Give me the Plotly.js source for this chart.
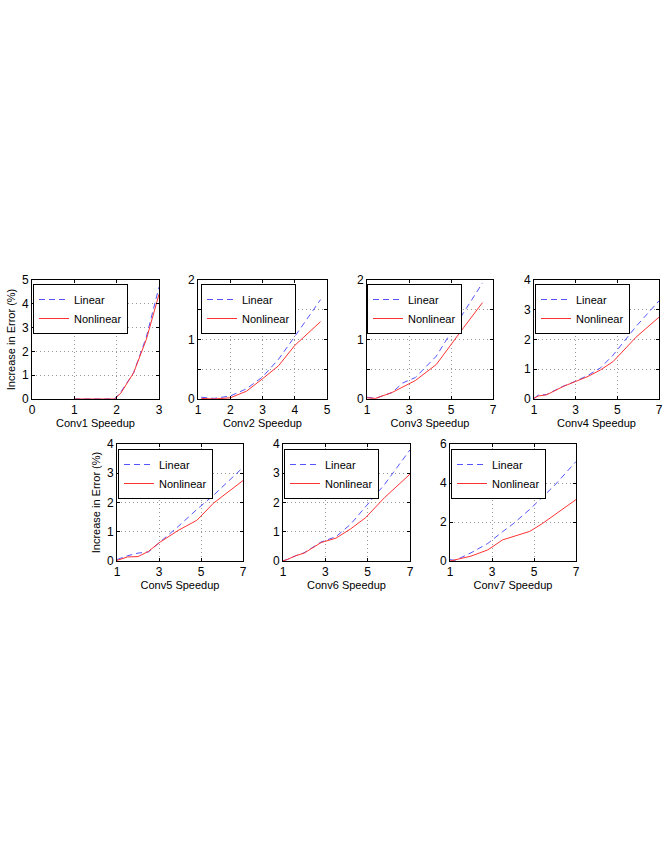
<!DOCTYPE html>
<html>
<head>
<meta charset="utf-8">
<script src="https://cdn.plot.ly/plotly-3.0.1.min.js"></script>
<style>
  html, body { margin: 0; padding: 0; background: #fff; }
  #chart { width: 663px; height: 855px; }
</style>
</head>
<body>
<div id="chart"></div>
<script>
// speedup values and error increases
const conv1X = [1, 1.5, 1.95, 2.1, 2.4, 2.7, 3];
const conv1Linear = [0, 0, 0, 0.3, 1.1, 2.6, 4.7];
const conv1Nonlinear = [0, 0, 0, 0.25, 1.1, 2.5, 4.4];

const conv2X = [1.1, 1.5, 2, 2.5, 3, 3.5, 4, 4.5, 4.8];
const conv2Linear = [0.03, 0.01, 0.05, 0.17, 0.37, 0.67, 1.05, 1.44, 1.67];
const conv2Nonlinear = [0.01, 0, 0.02, 0.13, 0.34, 0.56, 0.9, 1.15, 1.3];

const conv3X = [1, 1.4, 2.2, 2.7, 3.3, 4.3, 5, 5.6, 6.5];
const conv3Linear = [0.03, 0.01, 0.11, 0.27, 0.36, 0.72, 1.12, 1.46, 1.95];
const conv3Nonlinear = [0.02, 0.01, 0.11, 0.2, 0.31, 0.58, 0.92, 1.2, 1.62];

const conv4X = [1, 1.2, 1.6, 2.4, 3, 3.6, 4.2, 4.8, 5.9, 7];
const conv4Linear = [0.02, 0.13, 0.15, 0.43, 0.6, 0.8, 1.05, 1.48, 2.44, 3.3];
const conv4Nonlinear = [0.02, 0.1, 0.14, 0.42, 0.59, 0.76, 0.98, 1.26, 2.08, 2.75];

const conv5X = [1, 1.5, 2, 2.5, 3, 3.9, 4.8, 5.6, 7];
const conv5Linear = [0.05, 0.18, 0.27, 0.31, 0.62, 1.17, 1.76, 2.25, 3.2];
const conv5Nonlinear = [0.02, 0.14, 0.15, 0.33, 0.62, 1.04, 1.39, 1.98, 2.75];

const conv6X = [1, 1.2, 1.6, 2, 2.8, 3.5, 4.2, 4.9, 5.8, 7];
const conv6Linear = [0.01, 0.05, 0.18, 0.28, 0.65, 0.83, 1.26, 1.87, 2.62, 3.8];
const conv6Nonlinear = [0, 0.05, 0.18, 0.27, 0.63, 0.78, 1.1, 1.48, 2.17, 2.97];

const conv7X = [1, 1.25, 2, 2.8, 3.5, 4, 4.8, 5.4, 6, 7];
const conv7Linear = [0.07, 0.03, 0.42, 0.9, 1.5, 1.9, 2.65, 3.25, 3.9, 5.1];
const conv7Nonlinear = [0, 0.07, 0.25, 0.57, 1.08, 1.25, 1.52, 1.92, 2.38, 3.15];

const panelTitles = ['Conv1 Speedup', 'Conv2 Speedup', 'Conv3 Speedup', 'Conv4 Speedup',
                     'Conv5 Speedup', 'Conv6 Speedup', 'Conv7 Speedup'];

const W = 663, H = 855;
const px = v => v / W;
const py = v => 1 - v / H;

const panels = [
  { x: conv1X, lin: conv1Linear, non: conv1Nonlinear, box: [32, 159, 280, 399], xr: [0, 3], xt: [0, 1, 2, 3], xl: ['0', '1', '2', '3'], yr: [0, 5], yt: [0, 1, 2, 3, 4, 5], yl: ['0', '1', '2', '3', '4', '5'], leg: [33, 284], ytitle: true },
  { x: conv2X, lin: conv2Linear, non: conv2Nonlinear, box: [198, 327, 280, 399], xr: [1, 5], xt: [1, 2, 3, 4, 5], xl: ['1', '2', '3', '4', '5'], yr: [0, 2], yt: [0, 0.5, 1, 1.5, 2], yl: ['0', '', '1', '', '2'], leg: [201, 284] },
  { x: conv3X, lin: conv3Linear, non: conv3Nonlinear, box: [367, 493, 280, 399], xr: [1, 7], xt: [1, 3, 5, 7], xl: ['1', '3', '5', '7'], yr: [0, 2], yt: [0, 0.5, 1, 1.5, 2], yl: ['0', '', '1', '', '2'], leg: [367, 284] },
  { x: conv4X, lin: conv4Linear, non: conv4Nonlinear, box: [534, 659, 280, 399], xr: [1, 7], xt: [1, 3, 5, 7], xl: ['1', '3', '5', '7'], yr: [0, 4], yt: [0, 1, 2, 3, 4], yl: ['0', '1', '2', '3', '4'], leg: [535, 284] },
  { x: conv5X, lin: conv5Linear, non: conv5Nonlinear, box: [117, 243, 444, 561], xr: [1, 7], xt: [1, 3, 5, 7], xl: ['1', '3', '5', '7'], yr: [0, 4], yt: [0, 1, 2, 3, 4], yl: ['0', '1', '2', '3', '4'], leg: [118, 449], ytitle: true },
  { x: conv6X, lin: conv6Linear, non: conv6Nonlinear, box: [283, 410, 444, 561], xr: [1, 7], xt: [1, 3, 5, 7], xl: ['1', '3', '5', '7'], yr: [0, 4], yt: [0, 1, 2, 3, 4], yl: ['0', '1', '2', '3', '4'], leg: [284, 449] },
  { x: conv7X, lin: conv7Linear, non: conv7Nonlinear, box: [450, 576, 444, 561], xr: [1, 7], xt: [1, 3, 5, 7], xl: ['1', '3', '5', '7'], yr: [0, 6], yt: [0, 2, 4, 6], yl: ['0', '2', '4', '6'], leg: [451, 449] }
];

const font = { family: 'Liberation Sans, Arial, sans-serif', size: 11, color: '#000' };
const traces = [];
const layout = {
  width: W, height: H,
  margin: { l: 0, r: 0, t: 0, b: 0 },
  paper_bgcolor: '#fff', plot_bgcolor: '#fff',
  font: font,
  showlegend: true
};

panels.forEach((p, i) => {
  const n = i + 1;
  const sfx = n === 1 ? '' : String(n);
  const legName = 'legend' + sfx;
  traces.push({
    x: p.x, y: p.lin, type: 'scatter', mode: 'lines', name: 'Linear',
    xaxis: 'x' + sfx, yaxis: 'y' + sfx, legend: legName,
    line: { color: '#5555ff', width: 1, dash: '6px,4px' }
  });
  traces.push({
    x: p.x, y: p.non, type: 'scatter', mode: 'lines', name: 'Nonlinear',
    xaxis: 'x' + sfx, yaxis: 'y' + sfx, legend: legName,
    line: { color: '#ff3333', width: 1 }
  });
  const common = {
    showline: true, linecolor: '#000', linewidth: 1, mirror: 'ticks',
    ticks: 'inside', ticklen: 3, tickcolor: '#000',
    showgrid: true, gridcolor: '#999', griddash: '1px,3px', gridwidth: 1,
    zeroline: false, automargin: false, fixedrange: true,
    tickfont: { family: font.family, size: 12, color: '#000' }
  };
  layout['xaxis' + sfx] = Object.assign({}, common, {
    domain: [px(p.box[0]), px(p.box[1])], anchor: 'y' + sfx,
    range: p.xr, tickmode: 'array', tickvals: p.xt, ticktext: p.xl,
    title: { text: panelTitles[i], font: { family: font.family, size: 11, color: '#000' }, standoff: 2 }
  });
  layout['yaxis' + sfx] = Object.assign({}, common, {
    domain: [py(p.box[3]), py(p.box[2])], anchor: 'x' + sfx,
    range: p.yr, tickmode: 'array', tickvals: p.yt, ticktext: p.yl,
    title: p.ytitle ? { text: 'Increase in Error (%)', font: { family: font.family, size: 11, color: '#000' }, standoff: 4 } : { text: '' }
  });
  layout[legName] = {
    x: px(p.leg[0]), y: py(p.leg[1]), xanchor: 'left', yanchor: 'top',
    bgcolor: '#fff', bordercolor: '#000', borderwidth: 1,
    font: { family: font.family, size: 11, color: '#000' },
    tracegroupgap: 0, itemclick: false, itemdoubleclick: false
  };
});

Plotly.newPlot('chart', traces, layout, { displayModeBar: false, staticPlot: true });
</script>
</body>
</html>
